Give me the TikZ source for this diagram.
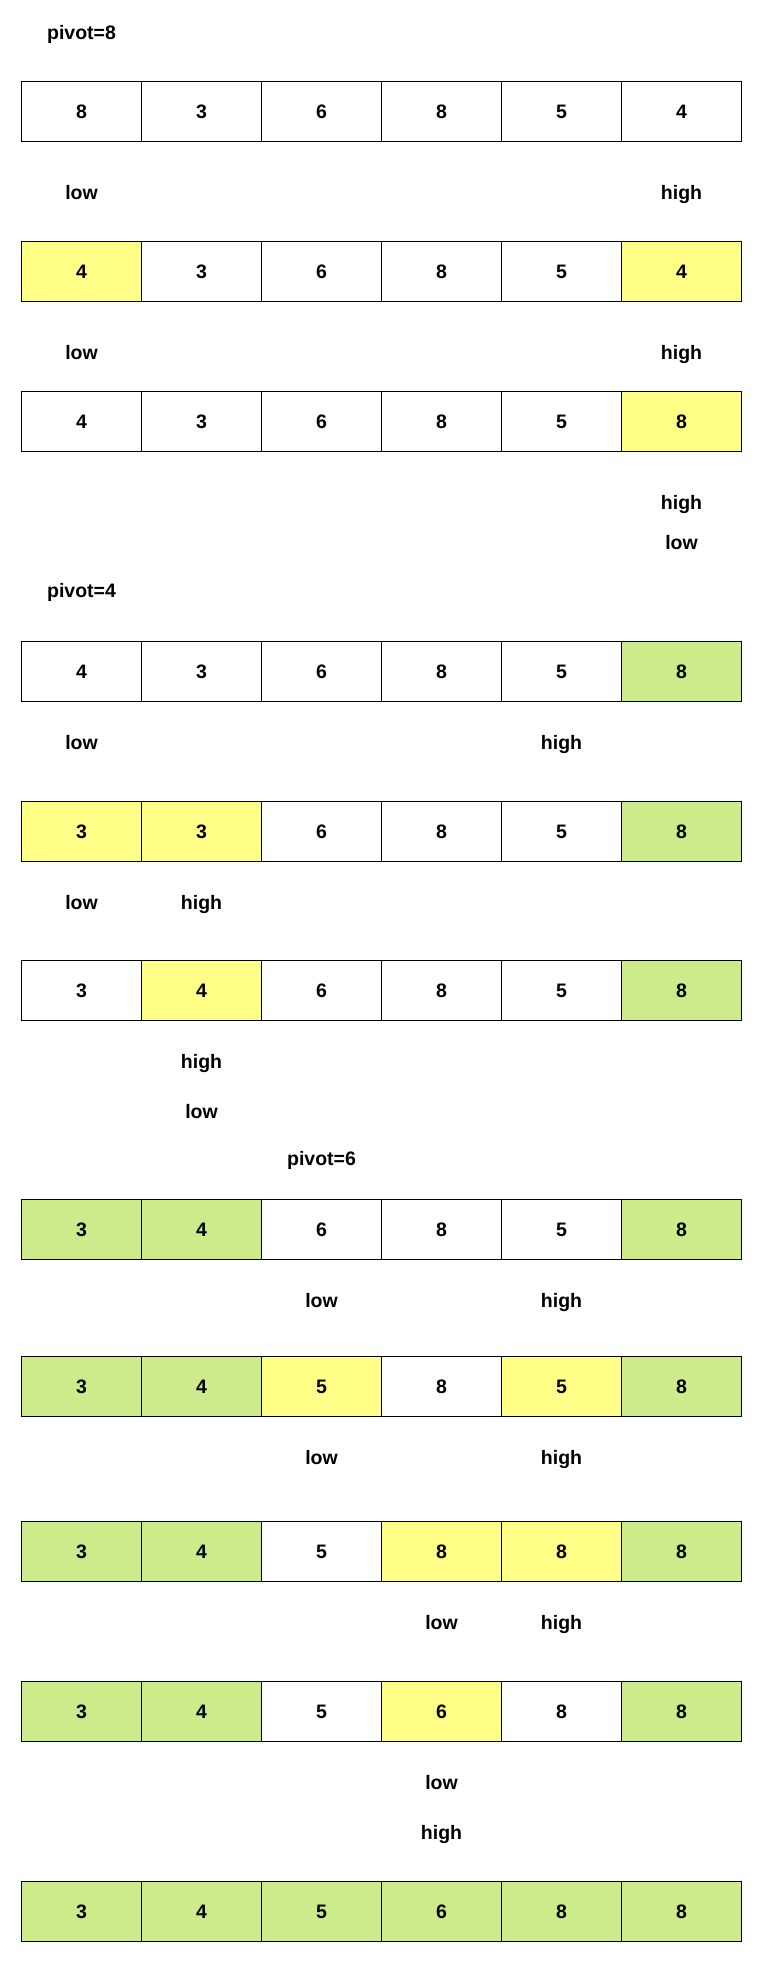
\documentclass[tikz,border=0pt]{standalone}
\usepackage{fontspec}
\setmainfont{Liberation Sans}
\usetikzlibrary{positioning}
\definecolor{pick}{HTML}{FFFF88}
\definecolor{done}{HTML}{CDEB8B}
\newcommand{\cellfont}{\fontsize{19.5}{22}\selectfont\bfseries}
% one row of the array: name, top edge, value/fill pairs
\newcommand{\cellrow}[3]{%
  \foreach \v/\f [count=\i] in {#3}
    \node[cell, fill=\f] (#1-\i) at ({21+120*(\i-1)}, #2) {\v};
}

\begin{document}
\begin{tikzpicture}[
  x=1pt, y=-1pt,
  cell/.style={draw=black, line width=1pt, anchor=north west,
               minimum width=120pt, minimum height=60pt, inner sep=0pt,
               font=\cellfont, text height=14pt, text depth=0pt},
  tag/.style={inner sep=0pt, font=\cellfont, text height=14pt, text depth=0pt}
]
  \useasboundingbox (0,0) rectangle (762,1962);

  % pivot=8
  \cellrow{a}{81}{8/white,3/white,6/white,8/white,5/white,4/white}
  \node[tag, above=41pt of a-1] (piv8) {pivot=8};
  \node[tag, below=43pt of a-1] (lowa) {low};
  \node[tag, below=43pt of a-6] (higha) {high};

  \cellrow{b}{241}{4/pick,3/white,6/white,8/white,5/white,4/pick}
  \node[tag, below=43pt of b-1] (lowb) {low};
  \node[tag, below=43pt of b-6] (highb) {high};

  \cellrow{c}{391}{4/white,3/white,6/white,8/white,5/white,8/pick}
  \node[tag, below=43pt of c-6] (highc) {high};
  \node[tag, below=26pt of highc] (lowc) {low};

  % pivot=4
  \cellrow{d}{641}{4/white,3/white,6/white,8/white,5/white,8/done}
  \node[tag, above=43pt of d-1] (piv4) {pivot=4};
  \node[tag, below=33pt of d-1] (lowd) {low};
  \node[tag, below=33pt of d-5] (highd) {high};

  \cellrow{e}{801}{3/pick,3/pick,6/white,8/white,5/white,8/done}
  \node[tag, below=33pt of e-1] (lowe) {low};
  \node[tag, below=33pt of e-2] (highe) {high};

  \cellrow{f}{960}{3/white,4/pick,6/white,8/white,5/white,8/done}
  \node[tag, below=33pt of f-2] (highf) {high};
  \node[tag, below=36pt of highf] (lowf) {low};

  % pivot=6
  \cellrow{g}{1199}{3/done,4/done,6/white,8/white,5/white,8/done}
  \node[tag, above=33pt of g-3] (piv6) {pivot=6};
  \node[tag, below=33pt of g-3] (lowg) {low};
  \node[tag, below=33pt of g-5] (highg) {high};

  \cellrow{h}{1356}{3/done,4/done,5/pick,8/white,5/pick,8/done}
  \node[tag, below=33pt of h-3] (lowh) {low};
  \node[tag, below=33pt of h-5] (highh) {high};

  \cellrow{i}{1521}{3/done,4/done,5/white,8/pick,8/pick,8/done}
  \node[tag, below=33pt of i-4] (lowi) {low};
  \node[tag, below=33pt of i-5] (highi) {high};

  \cellrow{j}{1681}{3/done,4/done,5/white,6/pick,8/white,8/done}
  \node[tag, below=33pt of j-4] (lowj) {low};
  \node[tag, below=36pt of lowj] (highj) {high};

  \cellrow{k}{1881}{3/done,4/done,5/done,6/done,8/done,8/done}
\end{tikzpicture}
\end{document}
